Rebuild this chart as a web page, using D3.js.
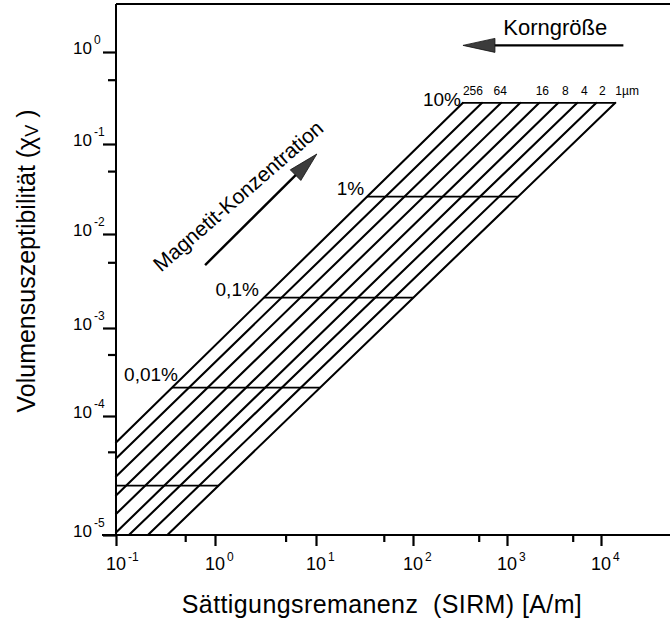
<!DOCTYPE html>
<html><head><meta charset="utf-8">
<script src="https://cdn.jsdelivr.net/npm/d3@7/dist/d3.min.js"></script>
<style>
body{margin:0;background:#fff}
svg{display:block}
text{font-family:"Liberation Sans",Arial,Helvetica,sans-serif;fill:#000}
</style>
</head><body>
<svg id="c" width="670" height="625"></svg>
<script>
// ---------------- data ----------------
const xTickValues = [0.1, 1, 10, 100, 1000, 10000];
const xTickExponents = ["-1", "0", "1", "2", "3", "4"];
const xMinorTicks = [0.5, 5, 50, 500, 5000];
const yTickValues = [1e-5, 1e-4, 1e-3, 1e-2, 1e-1, 1];
const yTickExponents = ["-5", "-4", "-3", "-2", "-1", "0"];
const yMinorTicks = [5e-5, 5e-4, 5e-3, 5e-2, 5e-1];

// grain-size lines (µm), top end at 10 % concentration
const grainSizes = [256, 128, 64, 32, 16, 8, 4, 2, 1];
const grainLabels = ["256", "", "64", "", "16", "8", "4", "2", "1µm"];
const lineTopSirm = [340, 543, 867, 1385, 2207, 3516, 5600, 8930, 14200];
const lineEndSirm = [0.1, 0.1, 0.1, 0.1, 0.1, 0.1, 0.135, 0.21, 0.33];
const lineEndChi = [6.0e-5, 4.4e-5, 3.1e-5, 2.15e-5, 1.5e-5, 1.05e-5, 1e-5, 1e-5, 1e-5];

// magnetite concentration levels
const concLabels = ["10%", "1%", "0,1%", "0,01%", ""];
const concChi = [0.28, 0.026, 0.0021, 0.00021, 0.000026];

// annotations (data coordinates)
const kornArrow = [[17300, 1.18], [340, 1.18]];
const kornText = [3265, 1.53];
const magArrow = [[0.794, 0.00467], [10.2, 0.0774]];
const magText = [1.89, 0.023];

// ---------------- layout ----------------
const W = 670, H = 625;
const svg = d3.select("#c");
svg.append("rect").attr("width", W).attr("height", H).attr("fill", "#fff");

// the printed axes are slightly uneven per decade, so the log scales are piecewise
const xS = d3.scaleLog().domain(xTickValues).range([116, 215, 316, 413, 507, 601]);
const yS = d3.scaleLog().domain(yTickValues).range([535, 416, 328, 234, 144, 52]);
const x0 = xS(0.1), y0 = yS(1e-5), yTop = 4;

// label nudges (layout only)
const concLabelDx = [-2, -3, -5, 6];
const concLabelDy = [3, -2, -2, -7];
const grainLabelDx = [10, 0, -1, 0, 3, 7, 7, 6, 0];

// frame
svg.append("path").attr("d", `M${x0},${yTop}H${W + 2}M${x0},${yTop}V${y0}M${x0 - 14},${y0}H${W + 2}`)
  .attr("fill", "none").attr("stroke", "#000").attr("stroke-width", 2);

// x axis ticks
const gx = svg.append("g").attr("transform", `translate(0,${y0})`);
gx.call(d3.axisBottom(xS).tickValues(xTickValues).tickSize(11).tickFormat(() => ""));
const gxm = svg.append("g").attr("transform", `translate(0,${y0})`);
gxm.call(d3.axisBottom(xS).tickValues(xMinorTicks).tickSize(7).tickFormat(() => ""));
// y axis ticks
const gy = svg.append("g").attr("transform", `translate(${x0},0)`);
gy.call(d3.axisLeft(yS).tickValues(yTickValues).tickSize(13).tickFormat(() => ""));
const gym = svg.append("g").attr("transform", `translate(${x0},0)`);
gym.call(d3.axisLeft(yS).tickValues(yMinorTicks).tickSize(8).tickFormat(() => ""));
[gx, gxm, gy, gym].forEach(g => {
  g.select(".domain").remove();
  g.selectAll(".tick line").attr("stroke", "#000").attr("stroke-width", 2.2);
});

// x tick labels
xTickValues.forEach((v, i) => {
  svg.append("text").attr("x", xS(v)).attr("y", 570).attr("text-anchor", "middle")
    .attr("font-size", 18).text("10");
  svg.append("text").attr("x", xS(v) + 12).attr("y", 561).attr("font-size", 12).text(xTickExponents[i]);
});
// y tick labels
yTickValues.forEach((v, i) => {
  svg.append("text").attr("x", 92).attr("y", yS(v) + 2).attr("text-anchor", "end")
    .attr("font-size", 17).text("10");
  svg.append("text").attr("x", 94).attr("y", yS(v) - 8).attr("font-size", 12).text(yTickExponents[i]);
});

// axis titles
svg.append("text").attr("x", 382).attr("y", 613).attr("text-anchor", "middle")
  .attr("font-size", 25).attr("letter-spacing", 0.4).style("white-space", "pre")
  .text("Sättigungsremanenz  (SIRM) [A/m]");
const yt = svg.append("text").attr("transform", "translate(35,261) rotate(-90)")
  .attr("text-anchor", "middle").attr("font-size", 25).style("white-space", "pre");
yt.append("tspan").text("Volumensuszeptibilität (χ");
yt.append("tspan").attr("font-size", 18).attr("dy", 3).text("V");
yt.append("tspan").attr("dy", -3).text(" )");

// grain-size lines
const segs = grainSizes.map((g, i) => ({
  g, i, label: grainLabels[i],
  xa: xS(lineTopSirm[i]), ya: yS(concChi[0]),
  xb: xS(lineEndSirm[i]), yb: yS(lineEndChi[i])
}));
svg.append("g").selectAll("line").data(segs).join("line")
  .attr("x1", d => d.xa).attr("y1", d => d.ya).attr("x2", d => d.xb).attr("y2", d => d.yb)
  .attr("stroke", "#000").attr("stroke-width", 2.1).attr("stroke-linecap", "round");

// x of a segment at pixel height y (null if the segment does not reach it)
function xAt(s, y) {
  if (y < Math.min(s.ya, s.yb) - 0.01 || y > Math.max(s.ya, s.yb) + 0.01) return null;
  return s.xa + (s.xb - s.xa) * (y - s.ya) / (s.yb - s.ya);
}

// concentration lines + labels
concChi.forEach((c, i) => {
  const y = yS(c);
  const xs = segs.map(s => xAt(s, y)).filter(v => v !== null);
  const xl = segs.every(s => xAt(s, y) !== null) ? d3.min(xs) : x0;
  const xr = d3.max(xs);
  svg.append("line").attr("x1", xl).attr("x2", xr).attr("y1", y).attr("y2", y)
    .attr("stroke", "#000").attr("stroke-width", 1.8);
  if (concLabels[i]) {
    svg.append("text").attr("x", xl + concLabelDx[i]).attr("y", y + concLabelDy[i])
      .attr("text-anchor", "end").attr("font-size", 19).text(concLabels[i]);
  }
});

// grain-size labels at top ends
segs.forEach(s => {
  if (!s.label) return;
  const last = s.i === segs.length - 1;
  svg.append("text").attr("x", s.xa + grainLabelDx[s.i]).attr("y", s.ya - 8)
    .attr("text-anchor", last ? "start" : "middle").attr("font-size", 12).text(s.label);
});

// arrows
function arrow(p, q, headLen, headHalf) {
  const x1 = xS(p[0]), y1 = yS(p[1]), x2 = xS(q[0]), y2 = yS(q[1]);
  const dx = x2 - x1, dy = y2 - y1, L = Math.hypot(dx, dy), ux = dx / L, uy = dy / L;
  const bx = x2 - ux * headLen, by = y2 - uy * headLen;
  svg.append("line").attr("x1", x1).attr("y1", y1).attr("x2", bx + ux * 3).attr("y2", by + uy * 3)
    .attr("stroke", "#000").attr("stroke-width", 2.4);
  svg.append("path")
    .attr("d", `M${x2},${y2}L${bx - uy * headHalf},${by + ux * headHalf}L${bx + uy * headHalf},${by - ux * headHalf}Z`)
    .attr("fill", "#3c3c3c").attr("stroke", "#111").attr("stroke-width", 0.8);
}
arrow(kornArrow[0], kornArrow[1], 32, 7);
arrow(magArrow[0], magArrow[1], 30, 7.5);

svg.append("text").attr("x", xS(kornText[0])).attr("y", yS(kornText[1])).attr("text-anchor", "middle")
  .attr("font-size", 22).text("Korngröße");
svg.append("text")
  .attr("transform", `translate(${xS(magText[0])},${yS(magText[1])}) rotate(-41)`)
  .attr("text-anchor", "middle").attr("font-size", 21).text("Magnetit-Konzentration");
</script>
</body></html>
